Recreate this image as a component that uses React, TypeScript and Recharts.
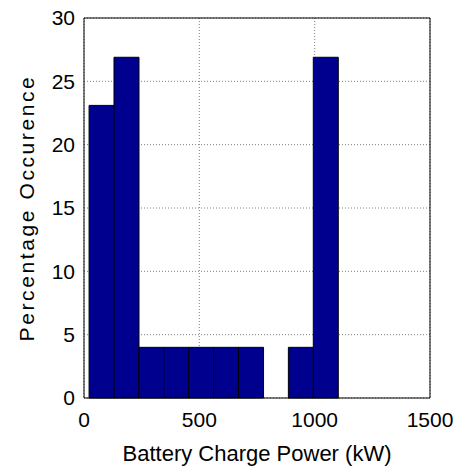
import React from 'react';
import { BarChart, Bar, XAxis, YAxis, CartesianGrid } from 'recharts';

// histogram bin centres (kW) and percentage of samples per bin
const binCenters = [76, 184, 292, 400, 508, 616, 724, 832, 940, 1048];
const occurrence = [23.1, 26.9, 4, 4, 4, 4, 4, 0, 4, 26.9];

const xTicks = [0, 500, 1000, 1500];
const yTicks = [0, 5, 10, 15, 20, 25, 30];

const data = binCenters.map((c, i) => ({ power: c, pct: occurrence[i] }));

const font = 'Arial, "Liberation Sans", Helvetica, sans-serif';
const tickStyle = { fill: '#000', fontSize: 21, fontFamily: font };

const App: React.FC = () => (
  <div style={{ position: 'absolute', left: 0, top: 0, background: '#fff' }}>
    <BarChart
      width={457}
      height={469}
      data={data}
      margin={{ top: 18, right: 27, bottom: 0, left: 0 }}
      barCategoryGap={0}
      barGap={0}
    >
      <CartesianGrid stroke="#808080" strokeDasharray="1 2" />
      <XAxis
        dataKey="power"
        type="number"
        domain={[0, 1500]}
        ticks={xTicks}
        height={71}
        tickLine={false}
        tickSize={0}
        tickMargin={14}
        axisLine={{ stroke: '#000' }}
        tick={tickStyle}
        label={{
          value: 'Battery Charge Power (kW)',
          position: 'insideBottom',
          offset: 8,
          style: { fill: '#000', fontSize: 22, fontFamily: font },
        }}
      />
      <YAxis
        type="number"
        domain={[0, 30]}
        ticks={yTicks}
        width={84}
        tickLine={false}
        tickSize={0}
        tickMargin={9}
        axisLine={{ stroke: '#000' }}
        tick={tickStyle}
        label={{
          value: 'Percentage Occurence',
          angle: -90,
          position: 'insideLeft',
          offset: 27,
          style: { fill: '#000', fontSize: 21, fontFamily: font, textAnchor: 'middle', letterSpacing: 2.6 },
        }}
      />
      {/* box outline and inward tick marks */}
      <XAxis xAxisId="tb" orientation="bottom" mirror type="number" domain={[0, 1500]} allowDataOverflow ticks={xTicks} tick={false} tickSize={4} axisLine={false} tickLine={{ stroke: '#000' }} />
      <XAxis xAxisId="tt" orientation="top" mirror type="number" domain={[0, 1500]} allowDataOverflow ticks={xTicks} tick={false} tickSize={4} axisLine={{ stroke: '#000' }} tickLine={{ stroke: '#000' }} />
      <YAxis yAxisId="tl" orientation="left" mirror type="number" domain={[0, 30]} allowDataOverflow ticks={yTicks} tick={false} tickSize={4} axisLine={false} tickLine={{ stroke: '#000' }} />
      <YAxis yAxisId="tr" orientation="right" mirror type="number" domain={[0, 30]} allowDataOverflow ticks={yTicks} tick={false} tickSize={4} axisLine={{ stroke: '#000' }} tickLine={{ stroke: '#000' }} />
      <Bar dataKey="pct" fill="#00008F" stroke="#000" strokeWidth={1} isAnimationActive={false} />
    </BarChart>
  </div>
);

export default App;
